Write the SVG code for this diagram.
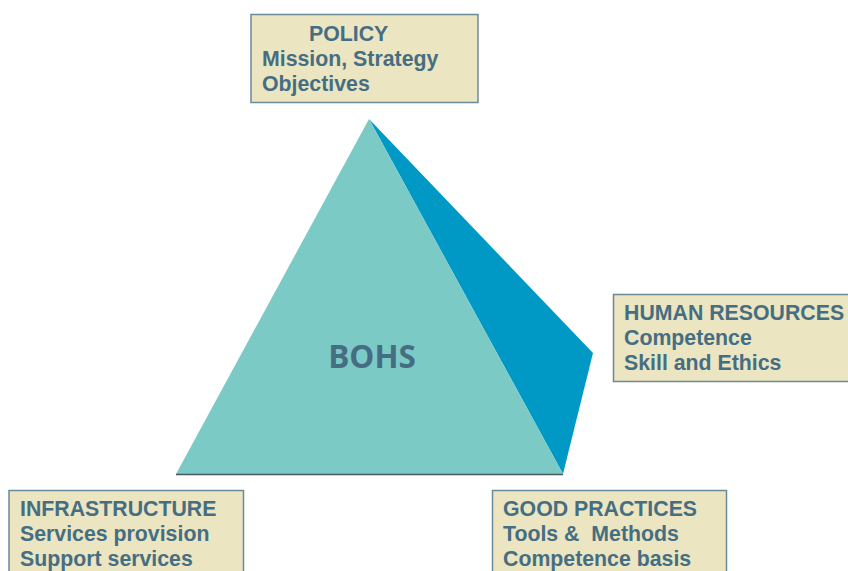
<svg xmlns="http://www.w3.org/2000/svg" width="848" height="571" viewBox="0 0 848 571">
  <style>
    .box { fill: #ebe5c2; stroke: #6b8a98; stroke-width: 1.5; }
    .lbl { font-family: "Liberation Sans", Arial, sans-serif; font-weight: bold; font-size: 21.3px; fill: #466e82; white-space: pre; }
  </style>
  <rect width="848" height="571" fill="#ffffff"/>

  <!-- pyramid -->
  <g id="pyramid">
    <polygon points="369,119 593,353 563,474" fill="#0099c5"/>
    <polygon points="369,119 176,474 563,474" fill="#7ccac6"/>
    <line x1="176" y1="474.5" x2="563" y2="474.5" stroke="#4a5a60" stroke-width="1.5"/>
    <text x="372" y="368" text-anchor="middle" font-family="'Open Sans', 'Noto Sans', sans-serif" font-weight="bold" font-size="31.5" fill="#466e82">BOHS</text>
  </g>

  <g id="connectors"></g>

  <g id="policy">
    <rect class="box" x="251" y="14.5" width="227" height="88"/>
    <text class="lbl" x="309" y="41">POLICY</text>
    <text class="lbl" x="262" y="66">Mission, Strategy</text>
    <text class="lbl" x="262" y="91">Objectives</text>
  </g>

  <g id="human-resources">
    <rect class="box" x="613.5" y="294.5" width="250" height="87"/>
    <text class="lbl" x="624" y="320">HUMAN RESOURCES</text>
    <text class="lbl" x="624" y="345">Competence</text>
    <text class="lbl" x="624" y="370">Skill and Ethics</text>
  </g>

  <g id="infrastructure">
    <rect class="box" x="9" y="490.5" width="234.5" height="90"/>
    <text class="lbl" x="20" y="516">INFRASTRUCTURE</text>
    <text class="lbl" x="20" y="541">Services provision</text>
    <text class="lbl" x="20" y="566">Support services</text>
  </g>

  <g id="good-practices">
    <rect class="box" x="492.5" y="490.5" width="234" height="90"/>
    <text class="lbl" x="503" y="516">GOOD PRACTICES</text>
    <text class="lbl" x="503" y="541">Tools &amp;  Methods</text>
    <text class="lbl" x="503" y="566">Competence basis</text>
  </g>
</svg>
